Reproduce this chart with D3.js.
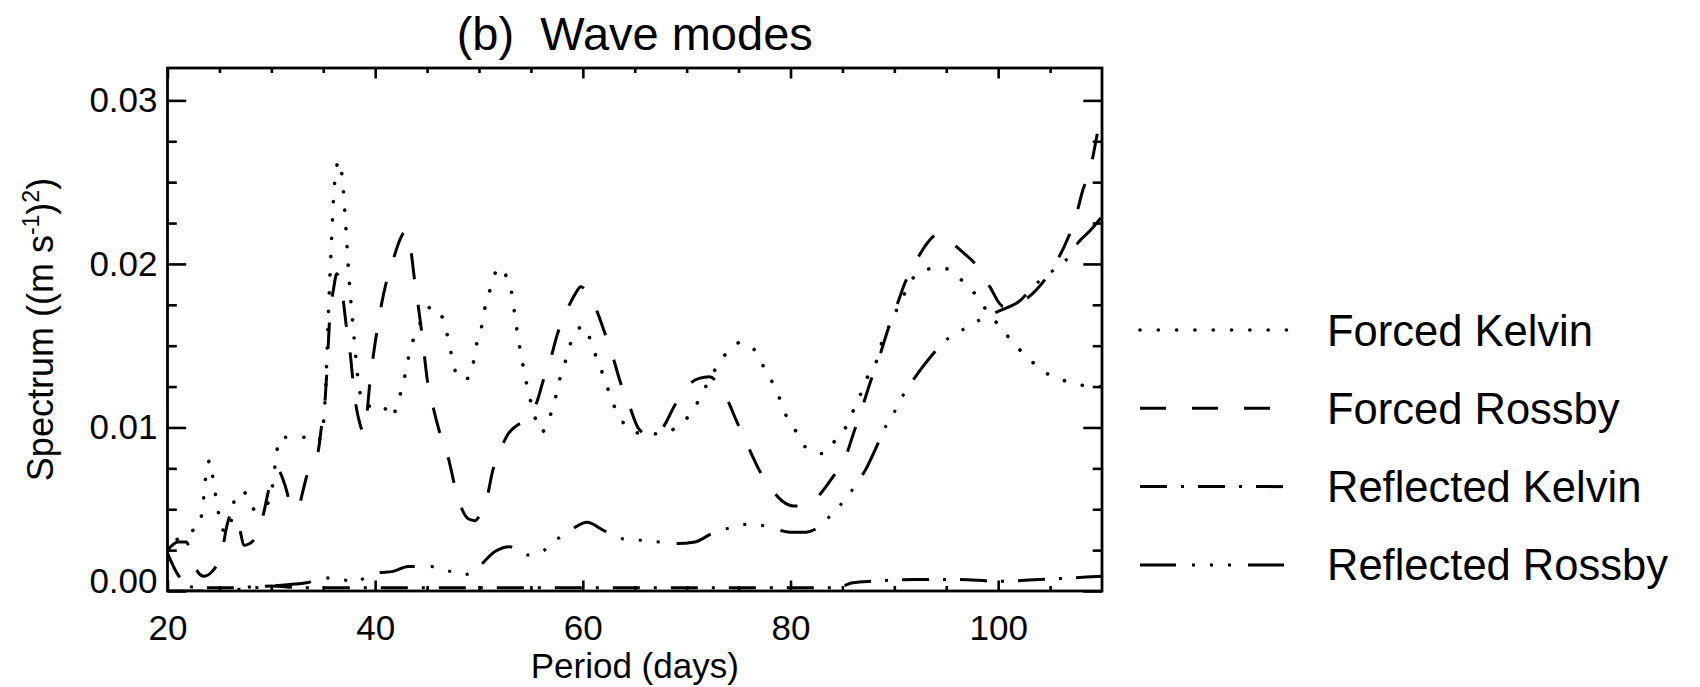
<!DOCTYPE html>
<html lang="en">

<head>
    <meta charset="UTF-8">
    <title>Wave modes</title>
    <script src="https://d3js.org/d3.v7.min.js"></script>
    <style>
        body { margin: 0; background: #fff; }
        text { font-family: "Liberation Sans", Arial, Helvetica, sans-serif; fill: #000; }
    </style>
</head>

<body>
    <div id="chart"></div>
    <script>

        // data: [period (days), spectrum ((m s-1)^2)]
        const forcedKelvin = [
            [20, 0.0022], [21, 0.0032], [22, 0.0036], [23, 0.0039], [23.4, 0.0052], [23.7, 0.0071],
            [24.1, 0.0080], [24.4, 0.0068], [24.7, 0.0056], [25.0, 0.0045], [25.4, 0.0037], [25.9, 0.0036],
            [26.5, 0.0057], [27.3, 0.0061], [28.1, 0.0051], [28.9, 0.0049], [29.9, 0.0057], [30.4, 0.0079],
            [30.8, 0.0094], [32.0, 0.0094], [33.1, 0.0094], [34.0, 0.0091], [34.8, 0.0094], [35.2, 0.0120],
            [35.5, 0.0170], [35.8, 0.0215], [36.1, 0.0250], [36.5, 0.0263], [36.9, 0.0248], [37.2, 0.0220],
            [37.5, 0.0190], [37.9, 0.0160], [38.4, 0.0127], [38.8, 0.0115], [39.5, 0.0113], [40.6, 0.0114],
            [41.6, 0.0106], [42.2, 0.0116], [42.7, 0.0127], [43.4, 0.0148], [44.0, 0.0159], [44.8, 0.0169],
            [45.4, 0.0174], [46.0, 0.0172], [46.7, 0.0163], [47.1, 0.0152], [47.5, 0.0140], [48.0, 0.0130],
            [49.0, 0.0130], [49.5, 0.0141], [49.8, 0.0152], [50.3, 0.0163], [50.6, 0.0174], [51.1, 0.0185],
            [51.6, 0.0195], [52.1, 0.0198], [52.5, 0.0194], [53.1, 0.0184], [53.6, 0.0162], [54.2, 0.0139],
            [54.9, 0.0118], [55.4, 0.0106], [56.0, 0.0097], [56.9, 0.0108], [57.4, 0.0119], [57.8, 0.0130],
            [58.3, 0.0140], [58.8, 0.0151], [59.7, 0.0161], [60.2, 0.0162], [60.7, 0.0154], [61.3, 0.0143],
            [61.9, 0.0133], [62.5, 0.0122], [63.1, 0.0112], [64.0, 0.0102], [65.0, 0.0097], [66.5, 0.0096],
            [68.0, 0.0097], [69.0, 0.0100], [70.2, 0.0107], [71.2, 0.0117], [72.0, 0.0127], [72.9, 0.0137],
            [73.9, 0.0146], [75.2, 0.0152], [76.6, 0.0147], [77.5, 0.0136], [78.3, 0.0127], [79.0, 0.0117],
            [79.6, 0.0107], [80.6, 0.0097], [81.6, 0.0087], [83.2, 0.0084], [84.3, 0.0092], [85.4, 0.0101],
            [86.1, 0.0111], [86.8, 0.0121], [87.5, 0.0132], [88.3, 0.0141], [88.8, 0.0152], [89.5, 0.0162],
            [90.3, 0.0173], [91.0, 0.0182], [91.9, 0.0192], [93.5, 0.0197], [95.0, 0.0197], [96.5, 0.0190],
            [97.6, 0.0183], [98.6, 0.0174], [99.6, 0.0166], [100.9, 0.0156], [102.0, 0.0148], [103.3, 0.0140],
            [104.7, 0.0133], [106.2, 0.0129], [107.9, 0.0126], [110, 0.0125]
        ];

        const forcedRossby = [
            [20, 0.0025], [21, 0.0030], [21.8, 0.0030], [22.3, 0.0022], [22.7, 0.0014], [23.5, 0.0009],
            [24.3, 0.0012], [25.2, 0.0023], [25.8, 0.0042], [26.2, 0.0048], [26.8, 0.0042], [27.4, 0.0028],
            [28.3, 0.0031], [29.2, 0.0046], [29.8, 0.0063], [30.6, 0.0074], [31.3, 0.0065], [31.8, 0.0054],
            [32.2, 0.0050], [32.6, 0.0051], [33.0, 0.0060], [33.4, 0.0070], [34.0, 0.0078], [34.5, 0.0085],
            [34.8, 0.0099], [35.2, 0.0119], [35.4, 0.0140], [35.6, 0.0165], [36.0, 0.0185], [36.3, 0.0194],
            [36.6, 0.0190], [36.9, 0.0179], [37.2, 0.0163], [37.6, 0.0145], [38.0, 0.0120], [38.5, 0.0103],
            [38.9, 0.0097], [39.2, 0.0108], [39.5, 0.0128], [39.8, 0.0143], [40.2, 0.0160], [40.6, 0.0175],
            [41.2, 0.0192], [41.8, 0.0204], [42.4, 0.0215], [42.9, 0.0220], [43.4, 0.0210], [43.8, 0.0190],
            [44.2, 0.0172], [44.6, 0.0152], [45.0, 0.0130], [45.6, 0.0112], [46.3, 0.0095], [47.1, 0.0080],
            [47.6, 0.0066], [48.3, 0.0051], [49.0, 0.0044], [49.6, 0.0043], [50.2, 0.0048], [50.8, 0.0058],
            [51.3, 0.0073], [52.1, 0.0087], [52.8, 0.0096], [53.6, 0.0101], [54.4, 0.0104], [55.1, 0.0109],
            [55.6, 0.0116], [56.2, 0.0129], [56.9, 0.0142], [57.5, 0.0156], [58.1, 0.0167], [58.7, 0.0175],
            [59.3, 0.0182], [59.8, 0.0186], [60.5, 0.0182], [61.3, 0.0172], [62.1, 0.0158], [62.9, 0.0143],
            [63.6, 0.0128], [64.5, 0.0113], [65.4, 0.0099], [66.5, 0.0095], [67.6, 0.0099], [68.9, 0.0114],
            [70.2, 0.0126], [71.2, 0.0130], [72.2, 0.0131], [72.9, 0.0128], [73.7, 0.0120], [74.8, 0.0104],
            [75.8, 0.0090], [76.9, 0.0075], [78.2, 0.0062], [79.2, 0.0055], [80.3, 0.0052], [81.4, 0.0052],
            [82.4, 0.0056], [83.2, 0.0062], [84.0, 0.0069], [85.3, 0.0082], [86.1, 0.0097], [86.9, 0.0112],
            [87.7, 0.0128], [88.6, 0.0144], [89.4, 0.0160], [90.1, 0.0172], [91.0, 0.0188], [92.2, 0.0203],
            [93.2, 0.0213], [94.2, 0.0218], [95.0, 0.0217], [95.9, 0.0211], [96.8, 0.0206], [97.8, 0.0200],
            [99.2, 0.0186], [100.5, 0.0174], [102.0, 0.0176], [103.5, 0.0183], [105.0, 0.0195], [106.6, 0.0214],
            [107.4, 0.0227], [108.1, 0.0244], [108.9, 0.0259], [109.5, 0.0278], [110, 0.0295]
        ];

        const reflectedKelvin = [
            [20, 0.0023], [20.5, 0.0016], [21, 0.0010], [21.5, 0.0006], [22, 0.0003], [23, 0.0002],
            [26, 0.0002], [30, 0.0003], [33, 0.0002], [40, 0.0002], [50, 0.0002], [60, 0.0002],
            [70, 0.0002], [80, 0.0002], [84, 0.0002], [85, 0.0003], [86, 0.0005], [88, 0.0006],
            [92, 0.0007], [96, 0.0007], [100, 0.0006], [104, 0.0007], [107, 0.0008], [110, 0.0009]
        ];

        const reflectedRossby = [
            [20, 0.0000], [24, 0.0000], [27, 0.0001], [28.5, 0.0002], [30, 0.0003], [31.8, 0.0004],
            [33.4, 0.0005], [35.0, 0.0008], [36.9, 0.0007], [38.0, 0.0005], [39.0, 0.0008], [40.2, 0.0011],
            [41.7, 0.0012], [43.2, 0.0015], [45.3, 0.0015], [47.2, 0.0012], [48.5, 0.0010], [49.5, 0.0012],
            [50.5, 0.0018], [51.5, 0.0024], [53.0, 0.0027], [54.7, 0.0022], [56.3, 0.0025], [57.6, 0.0032],
            [59.0, 0.0038], [60.4, 0.0042], [62.0, 0.0037], [63.8, 0.0032], [65.6, 0.0031], [67.4, 0.0030],
            [69.0, 0.0029], [70.8, 0.0030], [72.4, 0.0035], [74.4, 0.0039], [76.3, 0.0041], [78.0, 0.0039],
            [80.0, 0.0036], [81.5, 0.0036], [82.9, 0.0040], [84.1, 0.0048], [85.4, 0.0057], [86.4, 0.0066],
            [87.3, 0.0075], [88.2, 0.0087], [89.2, 0.0101], [89.8, 0.0107], [90.6, 0.0117], [91.6, 0.0127],
            [92.6, 0.0136], [93.6, 0.0144], [94.7, 0.0152], [96.4, 0.0159], [98.0, 0.0165], [100.0, 0.0171],
            [102.0, 0.0177], [103.7, 0.0188], [105.3, 0.0196], [106.9, 0.0205], [107.7, 0.0213], [108.8, 0.0220],
            [110, 0.0229]
        ];

        const seriesNames = ["Forced Kelvin", "Forced Rossby", "Reflected Kelvin", "Reflected Rossby"];
        const xMajorTicks = [20, 40, 60, 80, 100];
        const xMinorTicks = [25, 30, 35, 45, 50, 55, 65, 70, 75, 85, 90, 95, 105];
        const yMajorTicks = [0, 0.01, 0.02, 0.03];
        const yMinorTicks = [0.0025, 0.005, 0.0075, 0.0125, 0.015, 0.0175, 0.0225, 0.025, 0.0275];

        // IDL line styles: dotted, dashed, dash dot, dash dot dot dot
        const styles = [
            { dash: "0.1,18.2", width: 3.6, cap: "round" },
            { dash: "26,26", width: 3, cap: "butt" },
            { dash: "27,14,3,14", width: 3, cap: "butt" },
            { dash: "36,16,3,15,3,15,3,17", width: 3, cap: "butt" }
        ];

        const width = 1700, height = 687;
        const plot = { left: 167.5, right: 1102, top: 68, bottom: 591 };

        const svg = d3.select("#chart")
            .append("svg")
            .attr("width", width)
            .attr("height", height);

        const x = d3.scaleLinear().domain([20, 110]).range([plot.left, plot.right]);
        const y = d3.scaleLinear().domain([0, 0.03198]).range([plot.bottom, plot.top]);

        svg.append("clipPath").attr("id", "clip")
            .append("rect")
            .attr("x", plot.left).attr("y", plot.top - 2)
            .attr("width", plot.right - plot.left).attr("height", plot.bottom - plot.top + 2);

        // curves
        const line = d3.line()
            .x(d => x(d[0]))
            .y(d => y(d[1]))
            .curve(d3.curveMonotoneX);

        const allSeries = [forcedKelvin, forcedRossby, reflectedKelvin, reflectedRossby];

        svg.append("g").attr("clip-path", "url(#clip)")
            .selectAll("path")
            .data(allSeries)
            .join("path")
            .attr("d", line)
            .attr("fill", "none")
            .attr("stroke", "#000")
            .attr("stroke-width", (d, i) => styles[i].width)
            .attr("stroke-linecap", (d, i) => styles[i].cap)
            .attr("stroke-dasharray", (d, i) => styles[i].dash);

        // axes: ticks point inwards on all four sides, like IDL
        function styleAxis(g) {
            g.select(".domain").remove();
            g.selectAll(".tick line").attr("stroke", "#000").attr("stroke-width", 2.6);
            g.selectAll(".tick text").attr("font-size", 35).attr("font-family", null);
        }

        svg.append("g").attr("transform", `translate(0,${plot.bottom})`)
            .call(d3.axisBottom(x).tickValues(xMinorTicks).tickSize(-5).tickFormat(""))
            .call(styleAxis);
        svg.append("g").attr("transform", `translate(0,${plot.bottom})`)
            .call(d3.axisBottom(x).tickValues(xMajorTicks).tickSize(-10.5).tickPadding(24).tickFormat(d3.format("d")))
            .call(styleAxis);
        svg.append("g").attr("transform", `translate(0,${plot.top})`)
            .call(d3.axisTop(x).tickValues(xMinorTicks).tickSize(-5).tickFormat(""))
            .call(styleAxis);
        svg.append("g").attr("transform", `translate(0,${plot.top})`)
            .call(d3.axisTop(x).tickValues(xMajorTicks).tickSize(-10.5).tickFormat(""))
            .call(styleAxis);

        svg.append("g").attr("transform", `translate(${plot.left},0)`)
            .call(d3.axisLeft(y).tickValues(yMinorTicks).tickSize(-9.3).tickFormat(""))
            .call(styleAxis);
        const yAxis = svg.append("g").attr("transform", `translate(${plot.left},0)`)
            .call(d3.axisLeft(y).tickValues(yMajorTicks).tickSize(-18.7).tickPadding(10).tickFormat(d3.format(".2f")))
            .call(styleAxis);
        // the bottom label sits a little above its tick in the original
        yAxis.selectAll(".tick text").filter(d => d === 0).attr("dy", "0.05em");

        svg.append("g").attr("transform", `translate(${plot.right},0)`)
            .call(d3.axisRight(y).tickValues(yMinorTicks).tickSize(-9.3).tickFormat(""))
            .call(styleAxis);
        svg.append("g").attr("transform", `translate(${plot.right},0)`)
            .call(d3.axisRight(y).tickValues(yMajorTicks).tickSize(-18.7).tickFormat(""))
            .call(styleAxis);

        // frame
        svg.append("rect")
            .attr("x", plot.left).attr("y", plot.top)
            .attr("width", plot.right - plot.left).attr("height", plot.bottom - plot.top)
            .attr("fill", "none").attr("stroke", "#000").attr("stroke-width", 2.8);

        // title and axis titles
        const cx = (plot.left + plot.right) / 2;
        svg.append("text")
            .attr("x", cx).attr("y", 50)
            .attr("text-anchor", "middle")
            .attr("font-size", 47)
            .style("white-space", "pre")
            .text("(b)  Wave modes");

        svg.append("text")
            .attr("x", cx).attr("y", 678)
            .attr("text-anchor", "middle")
            .attr("font-size", 35)
            .text("Period (days)");

        const yTitle = svg.append("text")
            .attr("transform", `translate(53,${(plot.top + plot.bottom) / 2}) rotate(-90)`)
            .attr("text-anchor", "middle")
            .attr("font-size", 36);
        yTitle.append("tspan").text("Spectrum ((m s");
        yTitle.append("tspan").attr("font-size", 23).attr("dy", -14).text("-1");
        yTitle.append("tspan").attr("dy", 14).text(")");
        yTitle.append("tspan").attr("font-size", 23).attr("dy", -14).text("2");
        yTitle.append("tspan").attr("dy", 14).text(")");

        // legend
        const legend = svg.append("g").attr("transform", "translate(1140,330)");
        const rows = legend.selectAll("g")
            .data(seriesNames)
            .join("g")
            .attr("transform", (d, i) => `translate(0,${i * 78.3})`);

        rows.append("line")
            .attr("x1", 0).attr("x2", 148)
            .attr("stroke", "#000")
            .attr("stroke-width", (d, i) => styles[i].width)
            .attr("stroke-linecap", (d, i) => styles[i].cap)
            .attr("stroke-dasharray", (d, i) => styles[i].dash);

        rows.append("text")
            .attr("x", 187).attr("y", 15.5)
            .attr("font-size", 43.5)
            .text(d => d);

    </script>
</body>

</html>
